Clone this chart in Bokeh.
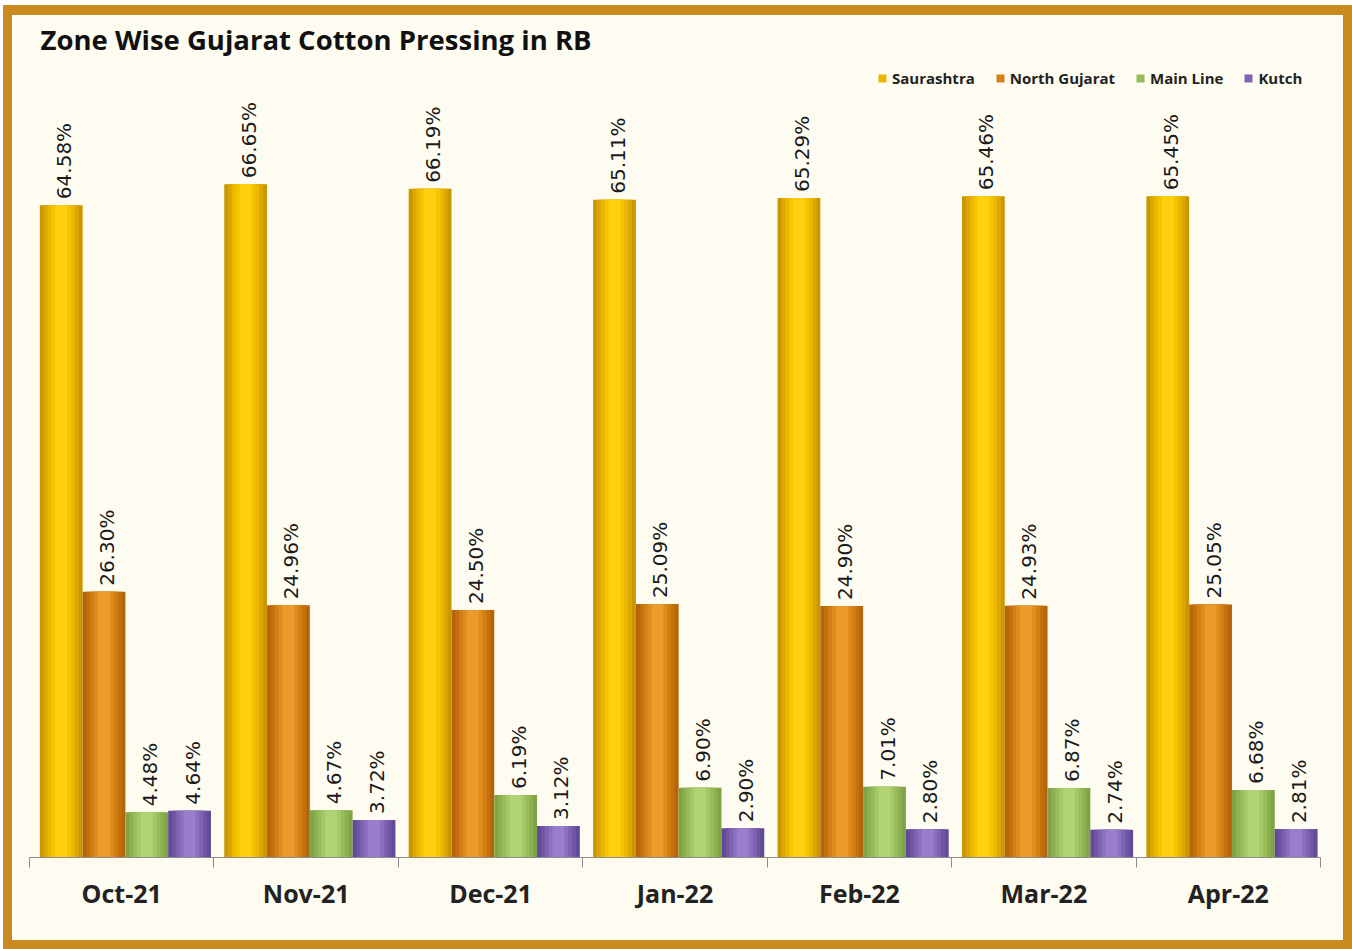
import numpy as np
from bokeh.plotting import figure
from bokeh.models import ColumnDataSource, Range1d, FixedTicker, Legend, LegendItem
from bokeh.core.properties import value
from bokeh.embed import file_html
from bokeh.resources import INLINE

# ---- data ----
months = ["Oct-21", "Nov-21", "Dec-21", "Jan-22", "Feb-22", "Mar-22", "Apr-22"]
series_names = ["Saurashtra", "North Gujarat", "Main Line", "Kutch"]
saurashtra = [64.58, 66.65, 66.19, 65.11, 65.29, 65.46, 65.45]
north_gujarat = [26.30, 24.96, 24.50, 25.09, 24.90, 24.93, 25.05]
main_line = [4.48, 4.67, 6.19, 6.90, 7.01, 6.87, 6.68]
kutch = [4.64, 3.72, 3.12, 2.90, 2.80, 2.74, 2.81]

# ---- style ----
CREAM = "#fefcf1"
BORDER = "#c98a1f"
shades = [
    ["#c99700", "#dba700", "#ebb700", "#f7c400", "#ffcf10"],
    ["#b5650b", "#c4710d", "#d47f14", "#e08c1c", "#eb9a2c"],
    ["#7ea447", "#8ab04f", "#97bd59", "#a4c866", "#b1d275"],
    ["#634a95", "#6f55a3", "#7d63b2", "#8a70bf", "#987fcb"],
]
layer_frac = [1.0, 0.82, 0.64, 0.46, 0.28]
BAR_W = 0.232
GROUP_C = 0.52

n = len(months)
p = figure(width=1352, height=949, output_backend="svg", toolbar_location=None,
           x_range=Range1d(0, n), y_range=Range1d(0, 78.7),
           min_border_left=29, min_border_right=32, min_border_top=62, min_border_bottom=92,
           background_fill_alpha=0, border_fill_alpha=0,
           styles={"background-color": CREAM,
                   "box-shadow": ("inset 3px 5px 0 0 #ffffff, "
                                  "inset 0 0 0 9px " + BORDER + ", "
                                  "inset 12px 15px 0 0 " + BORDER)})
p.outline_line_color = None
p.grid.visible = False
p.yaxis.visible = False

p.title.text = "Zone Wise Gujarat Cotton Pressing in RB"
p.title.align = "left"
p.title.offset = 11
p.title.standoff = 9
p.title.text_font = "Open Sans"
p.title.text_font_size = "27.5px"
p.title.text_font_style = "bold"
p.title.text_color = "#111111"

all_vals = [saurashtra, north_gujarat, main_line, kutch]
items = []
for i, (name, vals) in enumerate(zip(series_names, all_vals)):
    off = (i - 1.5) * BAR_W
    src = ColumnDataSource(dict(
        x=np.arange(n) + GROUP_C + off,
        top=vals,
        label=[f"{v:.2f}%" for v in vals],
    ))
    rends = []
    for frac, col in zip(layer_frac, shades[i]):
        r = p.vbar(x="x", top="top", bottom=0, width=BAR_W * frac, source=src,
                   fill_color=col, line_color=None)
        rends.append(r)
    items.append(LegendItem(label=name, renderers=[rends[2]]))
    p.text(x="x", y="top", text="label", source=src, angle=np.pi / 2,
           text_align="left", text_baseline="middle", x_offset=3, y_offset=-6,
           text_font=value("DejaVu Sans"), text_font_size=value("20px"),
           text_color="#1a1a1a")

legend = Legend(items=items, location=(848, 769), orientation="horizontal",
                margin=0, padding=4, spacing=20, label_standoff=5,
                glyph_width=10, glyph_height=10,
                label_text_font="Open Sans", label_text_font_size="15px",
                label_text_font_style="bold", label_text_color="#222222",
                background_fill_alpha=0, border_line_color=None)
p.add_layout(legend)

ax = p.xaxis[0]
ax.ticker = FixedTicker(ticks=[i + 0.5 for i in range(n)], minor_ticks=list(range(n + 1)))
ax.major_label_overrides = {i + 0.5: m for i, m in enumerate(months)}
ax.major_tick_out = 0
ax.major_tick_in = 0
ax.minor_tick_out = 10
ax.minor_tick_in = 0
ax.minor_tick_line_color = "#8c8c8c"
ax.axis_line_color = "#8c8c8c"
ax.major_label_standoff = 8
ax.major_label_text_font = "Open Sans"
ax.major_label_text_font_size = "25px"
ax.major_label_text_font_style = "bold"
ax.major_label_text_color = "#222222"

open("out.html", "w").write(file_html(p, INLINE))
